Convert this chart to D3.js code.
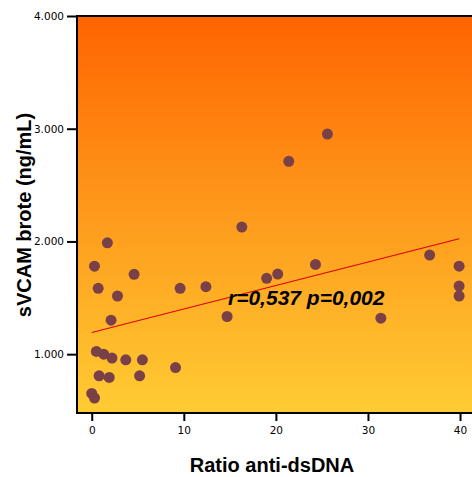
<!DOCTYPE html>
<html>
<head>
<meta charset="utf-8">
<script src="https://cdn.jsdelivr.net/npm/d3@7"></script>
<style>
  body { margin: 0; background: #fff; }
  svg { display: block; }
</style>
</head>
<body>
<div id="chart"></div>
<script>
// anti-dsDNA ratio (x) vs sVCAM brote in ng/mL (y)
const ratio = [1.7, 0.3, 4.6, 0.7, 2.8, 9.6, 2.1, 0.5, 1.3, 2.2, 3.7,
	5.5, 9.1, 0.8, 1.9, 5.2, 0.0, 0.3, 16.3, 12.4, 19.0, 20.2, 24.3,
	14.7, 25.6, 21.4, 36.7, 39.9, 39.9, 39.9, 31.4];
const svcam = [1988, 1781, 1708, 1584, 1516, 1584, 1301, 1024, 1000, 965, 950,
	950, 881, 808, 794, 808, 652, 611, 2127, 1599, 1673, 1711, 1796,
	1334, 2953, 2711, 1879, 1781, 1604, 1516, 1319];

// fitted line at both ends
const fitX = [0, 39.9];
const fitY = [1192, 2024];

const xTicks = [0, 10, 20, 30, 40];
const xTickLabels = ["0", "10", "20", "30", "40"];
const yTicks = [1000, 2000, 3000, 4000];
const yTickLabels = ["1.000", "2.000", "3.000", "4.000"];

const annotation = "r=0,537 p=0,002";
const xTitle = "Ratio anti-dsDNA";
const yTitle = "sVCAM brote (ng/mL)";

const width = 472, height = 477;
const plotLeft = 77, plotTop = 16, plotBottom = 413;

const svg = d3.select("#chart")
	.append("svg")
	.attr("width", width)
	.attr("height", height);

const x = d3.scaleLinear()
	.domain([-1.6, 41.3])
	.range([plotLeft, width]);

const y = d3.scaleLinear()
	.domain([478, 4000])
	.range([plotBottom, plotTop]);

// orange to yellow background of the plot area
const grad = svg.append("defs")
	.append("linearGradient")
	.attr("id", "bg")
	.attr("x1", 0).attr("y1", 0)
	.attr("x2", 0).attr("y2", 1);
grad.append("stop").attr("offset", "0%").attr("stop-color", "#ff6400");
grad.append("stop").attr("offset", "50%").attr("stop-color", "#fe9a1c");
grad.append("stop").attr("offset", "100%").attr("stop-color", "#ffcc33");

svg.append("rect")
	.attr("x", plotLeft)
	.attr("y", plotTop)
	.attr("width", width - plotLeft + 5)
	.attr("height", plotBottom - plotTop)
	.attr("fill", "url(#bg)")
	.attr("stroke", "#000")
	.attr("stroke-width", 2);

// axes
const yAxis = svg.append("g")
	.attr("transform", `translate(${plotLeft - 1},0)`)
	.call(d3.axisLeft(y)
		.tickValues(yTicks)
		.tickFormat((d, i) => yTickLabels[i])
		.tickSize(9)
		.tickPadding(3));

const xAxis = svg.append("g")
	.attr("transform", `translate(0,${plotBottom + 1})`)
	.call(d3.axisBottom(x)
		.tickValues(xTicks)
		.tickFormat((d, i) => xTickLabels[i])
		.tickSize(7)
		.tickPadding(6));

[xAxis, yAxis].forEach(function(a) {
	a.select(".domain").remove();
	a.selectAll(".tick line")
		.attr("stroke", "#000")
		.attr("stroke-width", 2);
	a.selectAll(".tick text")
		.attr("fill", "#000")
		.style("font-family", "DejaVu Sans, sans-serif")
		.style("font-size", "10.5px");
});

// regression line
svg.append("line")
	.attr("x1", x(fitX[0]))
	.attr("y1", y(fitY[0]))
	.attr("x2", x(fitX[1]))
	.attr("y2", y(fitY[1]))
	.attr("stroke", "#e00000")
	.attr("stroke-width", 1.2);

// points
svg.selectAll(".dot")
	.data(d3.zip(ratio, svcam))
	.enter()
	.append("circle")
	.attr("class", "dot")
	.attr("cx", d => x(d[0]))
	.attr("cy", d => y(d[1]))
	.attr("r", 5.5)
	.attr("fill", "#7a4047");

// correlation label
svg.append("text")
	.attr("x", 228)
	.attr("y", 305)
	.text(annotation)
	.style("font-family", "Liberation Sans, Arial, sans-serif")
	.style("font-weight", "bold")
	.style("font-style", "italic")
	.style("font-size", "21px")
	.attr("fill", "#000");

// axis titles
svg.append("text")
	.attr("x", 272)
	.attr("y", 472)
	.attr("text-anchor", "middle")
	.text(xTitle)
	.style("font-family", "Liberation Sans, Arial, sans-serif")
	.style("font-weight", "bold")
	.style("font-size", "20px");

svg.append("text")
	.attr("transform", "translate(31,215) rotate(-90)")
	.attr("text-anchor", "middle")
	.text(yTitle)
	.style("font-family", "Liberation Sans, Arial, sans-serif")
	.style("font-weight", "bold")
	.style("font-size", "20px");
</script>
</body>
</html>
